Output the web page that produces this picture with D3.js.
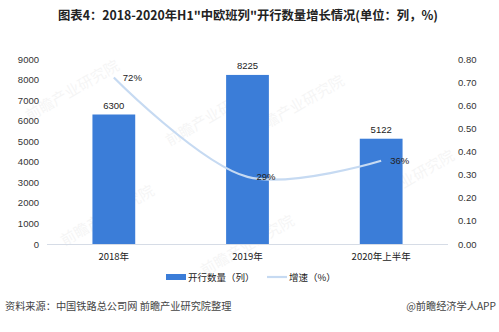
<!DOCTYPE html>
<html>
<head>
<meta charset="utf-8">
<script src="https://cdn.jsdelivr.net/npm/d3@7"></script>
<style>
  html, body { margin: 0; padding: 0; background: #fff; }
  svg { display: block; font-family: "Noto Sans CJK SC", "Noto Sans", sans-serif; }
</style>
</head>
<body>
<svg id="chart" width="499" height="332"></svg>
<script>
// Data
const categories = ["2018年", "2019年", "2020年上半年"];
const trainCounts = [6300, 8225, 5122];
const growthRates = [0.72, 0.29, 0.36];
const growthLabels = ["72%", "29%", "36%"];
const leftTicks = [0, 1000, 2000, 3000, 4000, 5000, 6000, 7000, 8000, 9000];
const rightTicks = [0, 0.1, 0.2, 0.3, 0.4, 0.5, 0.6, 0.7, 0.8];

const svg = d3.select("#chart");
const W = 499, H = 332;
const m = { left: 47, right: 51, top: 59, bottom: 88 };
const plotBottom = H - m.bottom; // 244
const plotRight = W - m.right;   // 448

const x = d3.scaleBand().domain(categories).range([m.left, plotRight]).paddingInner(0.68).paddingOuter(0.34);
const yL = d3.scaleLinear().domain([0, 9000]).range([plotBottom, m.top]);
const yR = d3.scaleLinear().domain([0, 0.8]).range([plotBottom, m.top]);

// Faint brand watermarks
const wm = [[75, 95], [215, 120], [300, 110], [410, 185], [110, 220], [250, 250]];
svg.append("g").selectAll("text").data(wm).join("text")
  .attr("transform", d => `translate(${d[0]},${d[1]}) rotate(-30)`)
  .attr("text-anchor", "middle")
  .attr("font-size", 15)
  .attr("fill", "#000")
  .attr("opacity", 0.035)
  .text("前瞻产业研究院");

// Title
svg.append("text")
  .attr("x", 248).attr("y", 20)
  .attr("text-anchor", "middle")
  .attr("font-size", 12.3).attr("font-weight", "bold")
  .attr("fill", "#222")
  .text("图表4：2018-2020年H1\"中欧班列\"开行数量增长情况(单位：列，%)");

// Left axis
const axL = svg.append("g").attr("transform", `translate(${m.left},0)`)
  .call(d3.axisLeft(yL).tickValues(leftTicks).tickSize(0).tickPadding(8).tickFormat(d3.format("d")));
axL.select(".domain").remove();
axL.selectAll("text").attr("font-size", 9.5).attr("fill", "#333").attr("font-family", "'Liberation Sans', sans-serif");

// Right axis
const axR = svg.append("g").attr("transform", `translate(${plotRight},0)`)
  .call(d3.axisRight(yR).tickValues(rightTicks).tickSize(0).tickPadding(10).tickFormat(d3.format(".2f")));
axR.select(".domain").remove();
axR.selectAll("text").attr("font-size", 9.5).attr("fill", "#333").attr("font-family", "'Liberation Sans', sans-serif");

// Baseline
svg.append("line")
  .attr("x1", m.left).attr("x2", plotRight)
  .attr("y1", plotBottom + 0.5).attr("y2", plotBottom + 0.5)
  .attr("stroke", "#d6dce6").attr("stroke-width", 1);

// Bars
svg.append("g").selectAll("rect").data(trainCounts).join("rect")
  .attr("x", (d, i) => x(categories[i]))
  .attr("y", d => yL(d))
  .attr("width", x.bandwidth())
  .attr("height", d => plotBottom - yL(d))
  .attr("fill", "#3b7dd8");

// Bar value labels
svg.append("g").selectAll("text").data(trainCounts).join("text")
  .attr("x", (d, i) => x(categories[i]) + x.bandwidth() / 2)
  .attr("y", d => yL(d) - 6)
  .attr("text-anchor", "middle")
  .attr("font-size", 9.5).attr("fill", "#222")
  .attr("font-family", "'Liberation Sans', sans-serif")
  .text(d => d);

// Growth line
const pts = growthRates.map((v, i) => [x(categories[i]) + x.bandwidth() / 2, yR(v)]);
svg.append("path")
  .attr("d", d3.line().curve(d3.curveCatmullRom.alpha(0.5))(pts))
  .attr("fill", "none")
  .attr("stroke", "#c6daf2")
  .attr("stroke-width", 2.2);

// Growth labels
svg.append("g").selectAll("text").data(pts).join("text")
  .attr("x", d => d[0] + 9)
  .attr("y", d => d[1] + 3.5)
  .attr("font-size", 9.5).attr("fill", "#222")
  .attr("font-family", "'Liberation Sans', sans-serif")
  .text((d, i) => growthLabels[i]);

// Category labels
svg.append("g").selectAll("text").data(categories).join("text")
  .attr("x", d => x(d) + x.bandwidth() / 2)
  .attr("y", 260)
  .attr("text-anchor", "middle")
  .attr("font-size", 9.5).attr("fill", "#222")
  .text(d => d);

// Legend
const lg = svg.append("g");
lg.append("rect").attr("x", 166).attr("y", 274).attr("width", 20).attr("height", 6).attr("fill", "#3b7dd8");
lg.append("text").attr("x", 188).attr("y", 281).attr("font-size", 9.5).attr("fill", "#222").text("开行数量（列）");
lg.append("line").attr("x1", 267).attr("x2", 287).attr("y1", 277).attr("y2", 277)
  .attr("stroke", "#c6daf2").attr("stroke-width", 2.2);
lg.append("text").attr("x", 289).attr("y", 281).attr("font-size", 9.5).attr("fill", "#222").text("增速（%）");

// Footer
svg.append("text").attr("x", 5).attr("y", 310).attr("font-size", 10.2).attr("fill", "#444")
  .text("资料来源：中国铁路总公司网 前瞻产业研究院整理");
svg.append("text").attr("x", 496).attr("y", 310).attr("text-anchor", "end").attr("font-size", 10.2).attr("fill", "#444")
  .text("@前瞻经济学人APP");
</script>
</body>
</html>
